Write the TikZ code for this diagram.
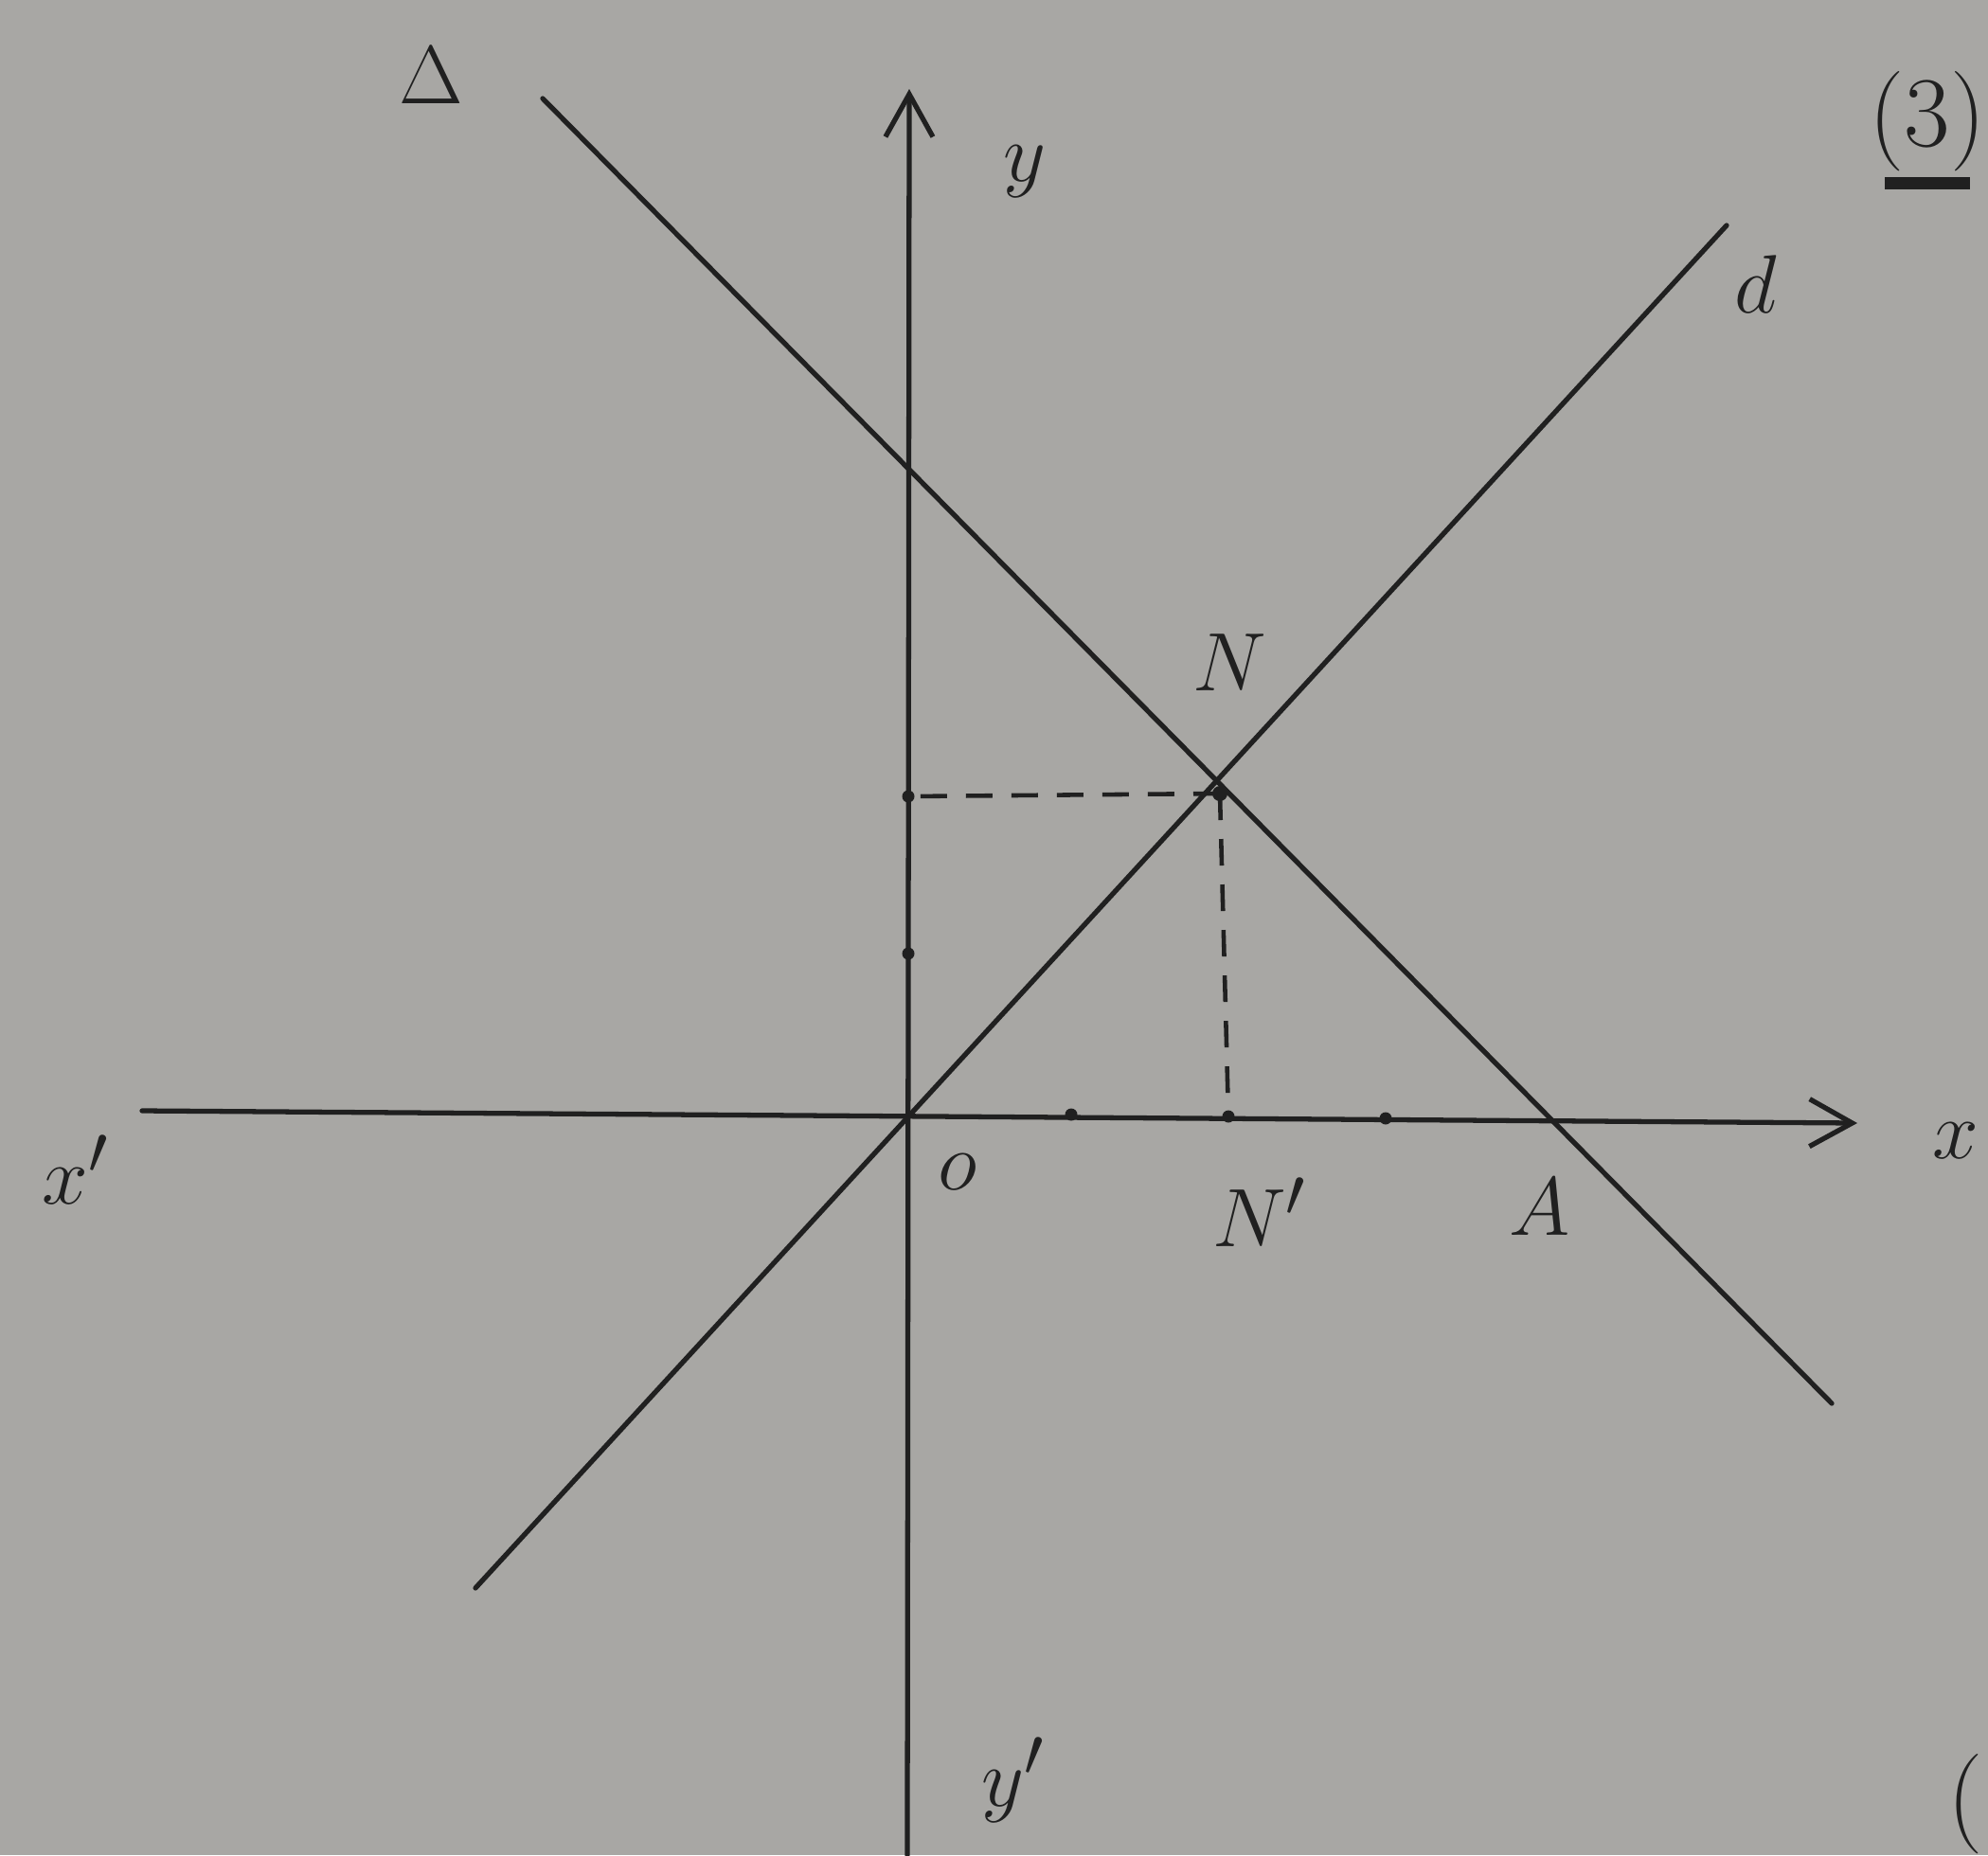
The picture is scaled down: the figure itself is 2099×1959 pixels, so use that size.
\documentclass[tikz,border=0pt]{standalone}
\usetikzlibrary{arrows.meta}
\definecolor{paper}{RGB}{168,167,164}
\definecolor{ink}{RGB}{32,32,32}
\begin{document}
\begin{tikzpicture}[x=0.01cm,y=-0.01cm,
  ln/.style={draw=ink,line width=1.5pt,line cap=round},
  dsh/.style={draw=ink,line width=1.3pt,dash pattern=on 0.28cm off 0.2cm},
  lbl/.style={text=ink,font=\fontsize{30}{32}\selectfont,inner sep=0pt},
  tick/.style={fill=ink,circle,inner sep=0pt,minimum size=0.13cm}]
\fill[paper] (0,0) rectangle (2099,1959);
\useasboundingbox (0,0) rectangle (2099,1959);
% points
\coordinate (O) at (960,1175);
\coordinate (xs) at (150,1173);
\coordinate (xe) at (1961,1186);
\coordinate (ys) at (958,1959);
\coordinate (ye) at (960,94);
\coordinate (Dsa) at (573,104);
\coordinate (Dsb) at (1934,1482);
\coordinate (dsa) at (502,1677);
\coordinate (dsb) at (1823,238);
\coordinate (N) at (1288,838);
\coordinate (Np) at (1297,1179);
\coordinate (Ny) at (959,841);
% axes
\draw[ln,-{Straight Barb[length=0.45cm,width=0.5cm,line width=1.5pt]}] (xs) -- (xe);
\draw[ln,-{Straight Barb[length=0.45cm,width=0.5cm,line width=1.5pt]}] (ys) -- (ye);
% lines
\draw[ln] (Dsa) -- (Dsb);
\draw[ln] (dsa) -- (dsb);
% dashed
\draw[dsh] (N) -- (Ny);
\draw[dsh] (N) -- (Np);
% ticks
\node[tick] (t1) at (1131,1177) {};
\node[tick] (t2) at (1297,1179) {};
\node[tick] (t3) at (1463,1181) {};
\node[tick] (ty1) at (959,1007) {};
\node[tick] (ty2) at (959,841) {};
\node[tick,minimum size=0.16cm] (nN) at (N) {};
% labels
\node[lbl] (lDelta) at (455,80) {$\Delta$};
\node[lbl] (ly) at (1082,181) {$y$};
\node[lbl] (l3) at (2035,128) {(3)};
\node[fill=ink,minimum width=0.9cm,minimum height=0.13cm,inner sep=0pt] (ul) at (2035,193) {};
\node[lbl] (ld) at (1854,300) {$d$};
\node[lbl] (lN) at (1298,700) {$N$};
\node[lbl] (lO) at (1011,1238) {$o$};
\node[lbl] (lNp) at (1330,1280) {$N'$};
\node[lbl] (lA) at (1626,1275) {$A$};
\node[lbl] (lxp) at (80,1235) {$x'$};
\node[lbl] (lyp) at (1070,1880) {$y'$};
\node[lbl,anchor=west] (lx) at (2040,1205) {$x$};
\node[lbl] (lpar) at (2075,1905) {(};
\end{tikzpicture}
\end{document}
